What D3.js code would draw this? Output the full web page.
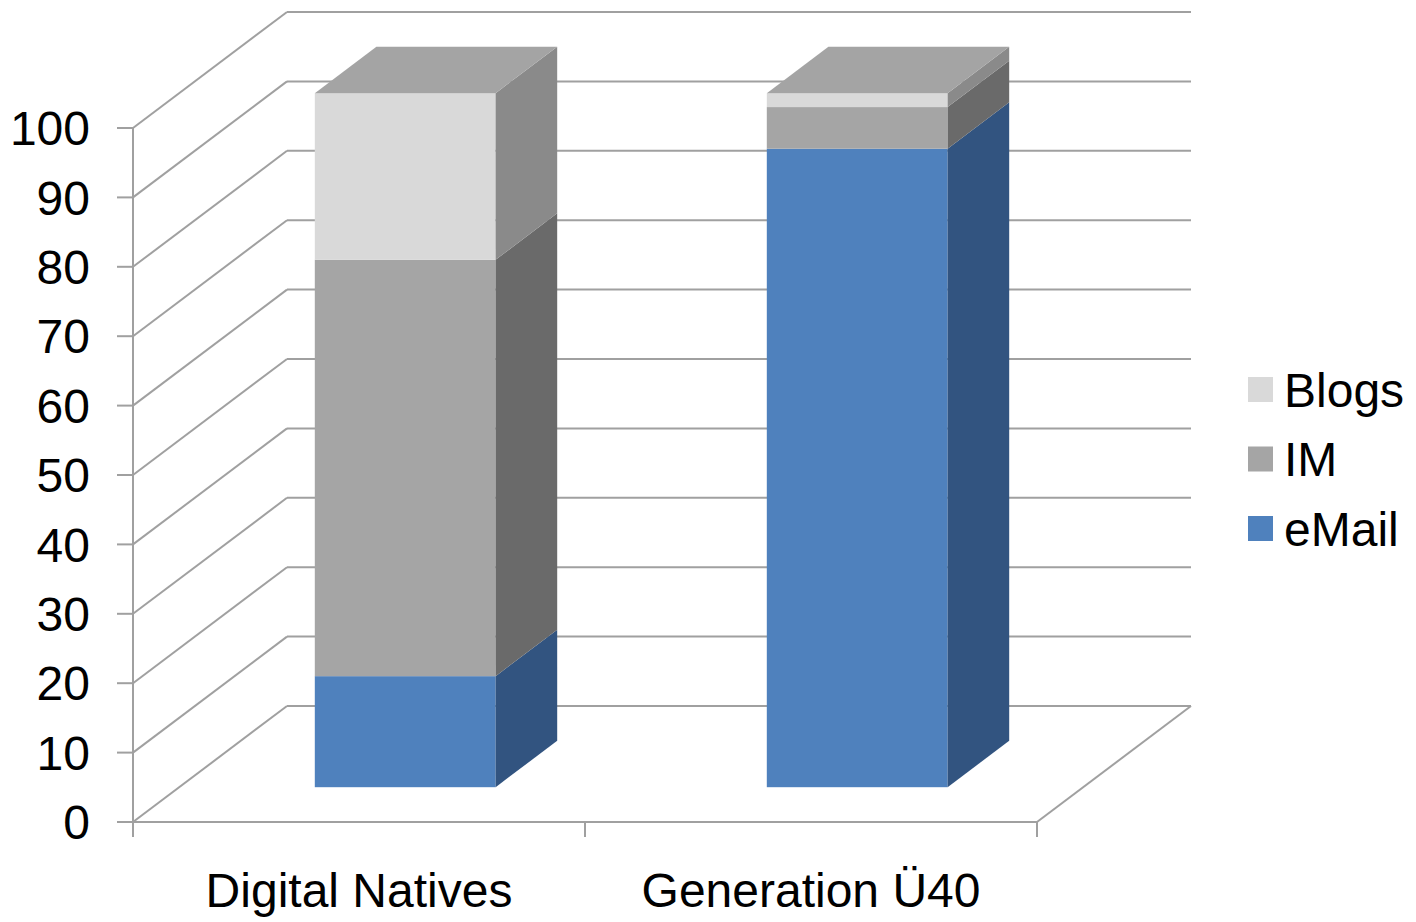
<!DOCTYPE html>
<html>
<head>
<meta charset="utf-8">
<script src="https://cdn.jsdelivr.net/npm/d3@7"></script>
<style>
    body { margin: 0; background: #fff; }
    svg { display: block; font-family: "Liberation Sans", Arial, sans-serif; }
</style>
</head>
<body>
<div id="chart"></div>
<script>
const categories = ["Digital Natives", "Generation Ü40"];
const seriesNames = ["eMail", "IM", "Blogs"];
const eMail = [16, 92];
const im = [60, 6];
const blogs = [24, 2];
const yTicks = [0, 10, 20, 30, 40, 50, 60, 70, 80, 90, 100];

const frontColors = { eMail: "#4f81bd", IM: "#a5a5a5", Blogs: "#d9d9d9" };
const sideColors = { eMail: "#325480", IM: "#6a6a6a", Blogs: "#8a8a8a" };
const topColor = "#a4a4a4";
const gridColor = "#a0a0a0";
const fontSize = 48;

const W = 1416, H = 922;
const svg = d3.select("#chart").append("svg").attr("width", W).attr("height", H);

// oblique depth: z in [0,1] -> offset
const depthX = 154, depthY = -116;
const zFront = 0.3, zBack = 0.7;

const x = d3.scaleBand().domain(categories).range([133, 1037])
    .paddingInner(0.6).paddingOuter(0.3);
const xCat = d3.scaleBand().domain(categories).range([133, 1037]);
const y = d3.scaleLinear().domain([0, 100]).range([822, 128]);

const rows = categories.map((c, i) => ({ cat: c, eMail: eMail[i], IM: im[i], Blogs: blogs[i] }));
const stacked = d3.stack().keys(seriesNames)(rows);

const grid = svg.append("g").attr("stroke", gridColor).attr("stroke-width", 2);
// left wall lines
grid.selectAll(".wall").data(yTicks).enter().append("line")
    .attr("x1", 133).attr("y1", d => y(d))
    .attr("x2", 133 + depthX).attr("y2", d => y(d) + depthY);
// back wall lines
grid.selectAll(".back").data(yTicks).enter().append("line")
    .attr("x1", 133 + depthX).attr("y1", d => y(d) + depthY)
    .attr("x2", 1037 + depthX).attr("y2", d => y(d) + depthY);
// floor
grid.append("line").attr("x1", 133).attr("y1", y(0)).attr("x2", 1037).attr("y2", y(0));
grid.append("line").attr("x1", 1037).attr("y1", y(0)).attr("x2", 1037 + depthX).attr("y2", y(0) + depthY);

// y axis
grid.append("line").attr("x1", 133).attr("y1", y(100)).attr("x2", 133).attr("y2", y(0) + 15);
grid.selectAll(".ytick").data(yTicks).enter().append("line")
    .attr("x1", 117).attr("x2", 133).attr("y1", d => y(d)).attr("y2", d => y(d));
svg.selectAll(".ylab").data(yTicks).enter().append("text")
    .attr("x", 90).attr("y", d => y(d)).attr("dy", "0.36em")
    .attr("text-anchor", "end").attr("font-size", fontSize).attr("fill", "#000")
    .text(d => d);

// x axis ticks
const xTickPos = [133].concat(categories.map(c => xCat(c) + xCat.bandwidth()));
grid.selectAll(".xtick").data(xTickPos).enter().append("line")
    .attr("x1", d => d).attr("x2", d => d).attr("y1", y(0)).attr("y2", y(0) + 15);
svg.selectAll(".xlab").data(categories).enter().append("text")
    .attr("x", d => xCat(d) + xCat.bandwidth() / 2).attr("y", 907)
    .attr("text-anchor", "middle").attr("font-size", fontSize).attr("fill", "#000")
    .text(d => d);

// bars
const fx = depthX * zFront, fy = depthY * zFront;
const bx = depthX * (zBack - zFront), by = depthY * (zBack - zFront);
const bars = svg.append("g");
stacked.forEach(layer => {
    const key = layer.key;
    const isTop = key === seriesNames[seriesNames.length - 1];
    layer.forEach(d => {
        const x0 = x(d.data.cat) + fx, x1 = x0 + x.bandwidth();
        const yTop = y(d[1]) + fy, yBot = y(d[0]) + fy;
        bars.append("rect")
            .attr("x", x0).attr("y", yTop)
            .attr("width", x1 - x0).attr("height", yBot - yTop)
            .attr("fill", frontColors[key]);
        bars.append("path")
            .attr("d", `M${x1},${yTop}L${x1 + bx},${yTop + by}L${x1 + bx},${yBot + by}L${x1},${yBot}Z`)
            .attr("fill", sideColors[key]);
        if (isTop) {
            bars.append("path")
                .attr("d", `M${x0},${yTop}L${x1},${yTop}L${x1 + bx},${yTop + by}L${x0 + bx},${yTop + by}Z`)
                .attr("fill", topColor);
        }
    });
});

// legend
const legendKeys = seriesNames.slice().reverse();
const legend = svg.selectAll(".leg").data(legendKeys).enter().append("g")
    .attr("transform", (d, i) => `translate(1248, ${389.5 + i * 69.5})`);
legend.append("rect").attr("x", 0).attr("y", -12.5).attr("width", 25).attr("height", 25)
    .attr("fill", d => frontColors[d]);
legend.append("text").attr("x", 36).attr("y", 0).attr("dy", "0.36em")
    .attr("font-size", fontSize).attr("fill", "#000").text(d => d);
</script>
</body>
</html>
